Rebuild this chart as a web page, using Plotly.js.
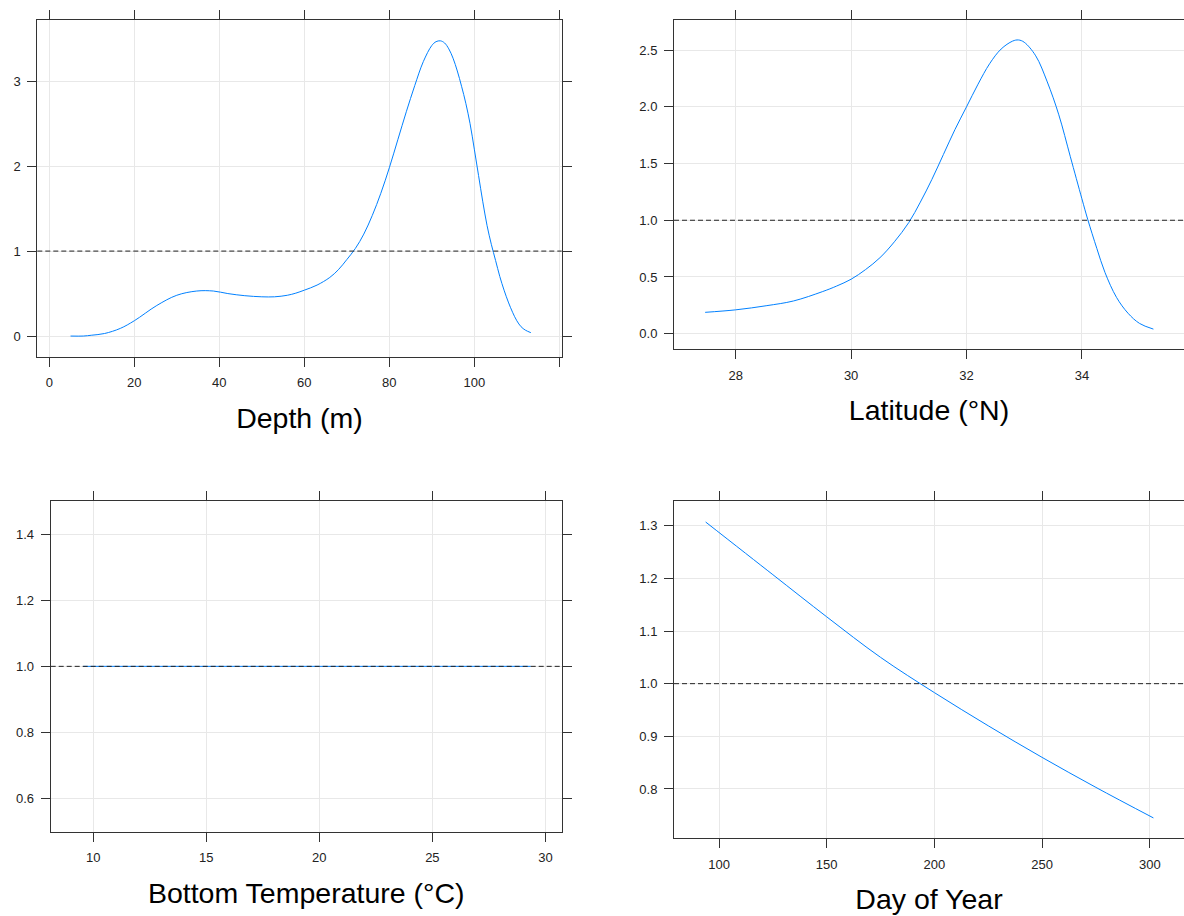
<!DOCTYPE html>
<html>
<head>
<meta charset="utf-8">
<script src="https://cdn.plot.ly/plotly-3.0.1.min.js"></script>
<style>
  html, body { margin: 0; padding: 0; background: #fff; }
  #chart { width: 1184px; height: 916px; }
</style>
</head>
<body>
<div id="chart"></div>
<script>
// ---- Data ----
const depthX = [5, 8, 10, 13, 16.7, 20, 25.3, 30, 34.7, 38.6, 42, 46, 50, 53, 56, 58, 60, 63, 66, 68, 70, 72, 74, 76, 78, 80, 82, 84, 86, 88, 90, 91, 92, 93, 94, 95, 96, 97, 98, 99, 100, 101, 102, 103, 104, 105, 106, 107, 108, 109, 110, 111, 112, 113.3];
const depthY = [0.0, 0.0, 0.01, 0.03, 0.09, 0.18, 0.36, 0.48, 0.53, 0.53, 0.50, 0.475, 0.462, 0.462, 0.48, 0.505, 0.54, 0.60, 0.69, 0.78, 0.90, 1.03, 1.20, 1.42, 1.68, 1.98, 2.31, 2.64, 2.95, 3.23, 3.42, 3.465, 3.475, 3.45, 3.38, 3.27, 3.12, 2.94, 2.74, 2.50, 2.20, 1.89, 1.58, 1.30, 1.08, 0.89, 0.70, 0.54, 0.40, 0.28, 0.18, 0.11, 0.07, 0.04];

const latX = [27.47, 28.0, 28.54, 29.0, 29.5, 29.75, 30.0, 30.25, 30.5, 30.75, 31.0, 31.2, 31.4, 31.6, 31.8, 32.0, 32.2, 32.4, 32.6, 32.8, 32.9, 33.0, 33.2, 33.4, 33.6, 33.8, 34.0, 34.1, 34.26, 34.4, 34.6, 34.8, 35.0, 35.24];
const latY = [0.188, 0.21, 0.247, 0.288, 0.37, 0.42, 0.48, 0.565, 0.67, 0.81, 0.98, 1.16, 1.36, 1.58, 1.80, 2.0, 2.20, 2.38, 2.51, 2.58, 2.59, 2.57, 2.45, 2.22, 1.93, 1.56, 1.19, 1.01, 0.75, 0.54, 0.32, 0.18, 0.09, 0.04];

const tempX = [9.56, 15, 20, 25, 29.35];
const tempY = [1.0, 1.0, 1.0, 1.0, 1.0];

const dayX = [93.8, 125, 150, 175, 200, 225, 250, 275, 301.7];
const dayY = [1.307, 1.207, 1.127, 1.050, 0.983, 0.920, 0.860, 0.803, 0.745];

const refLevel = 1;

// tick labels
const depthTicks = [0, 20, 40, 60, 80, 100, 120];
const depthTickText = ['0', '20', '40', '60', '80', '100', ''];
const depthYTicks = [0, 1, 2, 3];
const latTicks = [28, 30, 32, 34, 36];
const latYTicks = [0.0, 0.5, 1.0, 1.5, 2.0, 2.5];
const latYText = ['0.0', '0.5', '1.0', '1.5', '2.0', '2.5'];
const tempTicks = [10, 15, 20, 25, 30];
const tempYTicks = [0.6, 0.8, 1.0, 1.2, 1.4];
const tempYText = ['0.6', '0.8', '1.0', '1.2', '1.4'];
const dayTicks = [100, 150, 200, 250, 300];
const dayYTicks = [0.8, 0.9, 1.0, 1.1, 1.2, 1.3];
const dayYText = ['0.8', '0.9', '1.0', '1.1', '1.2', '1.3'];

const titles = ['Depth (m)', 'Latitude (°N)', 'Bottom Temperature (°C)', 'Day of Year'];

// ---- Styling ----
const FONT = 'Liberation Sans, Arial, sans-serif';
const lineStyle = { color: '#0080ff', width: 1, shape: 'spline', smoothing: 1 };

function axisBase(extra) {
  return Object.assign({
    showline: true, linecolor: '#333', linewidth: 1,
    mirror: 'ticks', ticks: 'outside', ticklen: 9, tickwidth: 1, tickcolor: '#333',
    showgrid: true, gridcolor: '#e8e8e8', gridwidth: 1,
    zeroline: false, autorange: false, fixedrange: true,
    tickfont: { family: FONT, size: 13, color: '#222' },
    tickmode: 'array'
  }, extra);
}
function xAxis(extra) { return axisBase(Object.assign({ ticklabelstandoff: 5 }, extra)); }
function yAxis(extra) { return axisBase(Object.assign({ ticklabelstandoff: 4 }, extra)); }
function xTitle(t) {
  return { text: t, font: { family: FONT, size: 28.5, color: '#000' }, standoff: 18 };
}

const traces = [
  { x: depthX, y: depthY, xaxis: 'x', yaxis: 'y', mode: 'lines', line: lineStyle, hoverinfo: 'x+y' },
  { x: latX, y: latY, xaxis: 'x2', yaxis: 'y2', mode: 'lines', line: lineStyle, hoverinfo: 'x+y' },
  { x: tempX, y: tempY, xaxis: 'x3', yaxis: 'y3', mode: 'lines', line: lineStyle, hoverinfo: 'x+y' },
  { x: dayX, y: dayY, xaxis: 'x4', yaxis: 'y4', mode: 'lines', line: lineStyle, hoverinfo: 'x+y' }
];

const W = 1184, H = 916;
const px = v => v / W;
const py = v => 1 - v / H;

const layout = {
  width: W, height: H,
  margin: { l: 0, r: 0, t: 0, b: 0 },
  paper_bgcolor: '#fff', plot_bgcolor: '#fff',
  showlegend: false,
  font: { family: FONT, color: '#222' },

  xaxis: xAxis({ domain: [px(37.3), px(561.7)], range: [-2.82, 120.56], anchor: 'y',
    tickvals: depthTicks, ticktext: depthTickText, title: xTitle(titles[0]) }),
  yaxis: yAxis({ domain: [py(356.7), py(20)], range: [-0.243, 3.72], anchor: 'x',
    tickvals: depthYTicks, ticktext: depthYTicks.map(String) }),

  xaxis2: xAxis({ domain: [px(674), 1], range: [26.93, 35.77], anchor: 'y2',
    tickvals: latTicks, ticktext: latTicks.map(String), title: xTitle(titles[1]) }),
  yaxis2: yAxis({ domain: [py(349.3), py(20)], range: [-0.138, 2.766], anchor: 'x2', mirror: false,
    tickvals: latYTicks, ticktext: latYText }),

  xaxis3: xAxis({ domain: [px(50.7), px(561.7)], range: [8.12, 30.72], anchor: 'y3',
    tickvals: tempTicks, ticktext: tempTicks.map(String), title: xTitle(titles[2]) }),
  yaxis3: yAxis({ domain: [py(831.7), py(501)], range: [0.5, 1.5], anchor: 'x3',
    tickvals: tempYTicks, ticktext: tempYText }),

  xaxis4: xAxis({ domain: [px(674), 1], range: [79.1, 315.9], anchor: 'y4',
    tickvals: dayTicks, ticktext: dayTicks.map(String), title: xTitle(titles[3]) }),
  yaxis4: yAxis({ domain: [py(838.3), py(500.7)], range: [0.7063, 1.3475], anchor: 'x4', mirror: false,
    tickvals: dayYTicks, ticktext: dayYText }),

  shapes: ['', '2', '3', '4'].map(s => ({
    type: 'line', layer: 'above',
    xref: 'x' + s + ' domain', x0: 0, x1: 1,
    yref: 'y' + s, y0: refLevel, y1: refLevel,
    line: { color: '#222', width: 1, dash: '5px,3px' }
  }))
};

Plotly.newPlot('chart', traces, layout, { displayModeBar: false, staticPlot: true });
</script>
</body>
</html>
